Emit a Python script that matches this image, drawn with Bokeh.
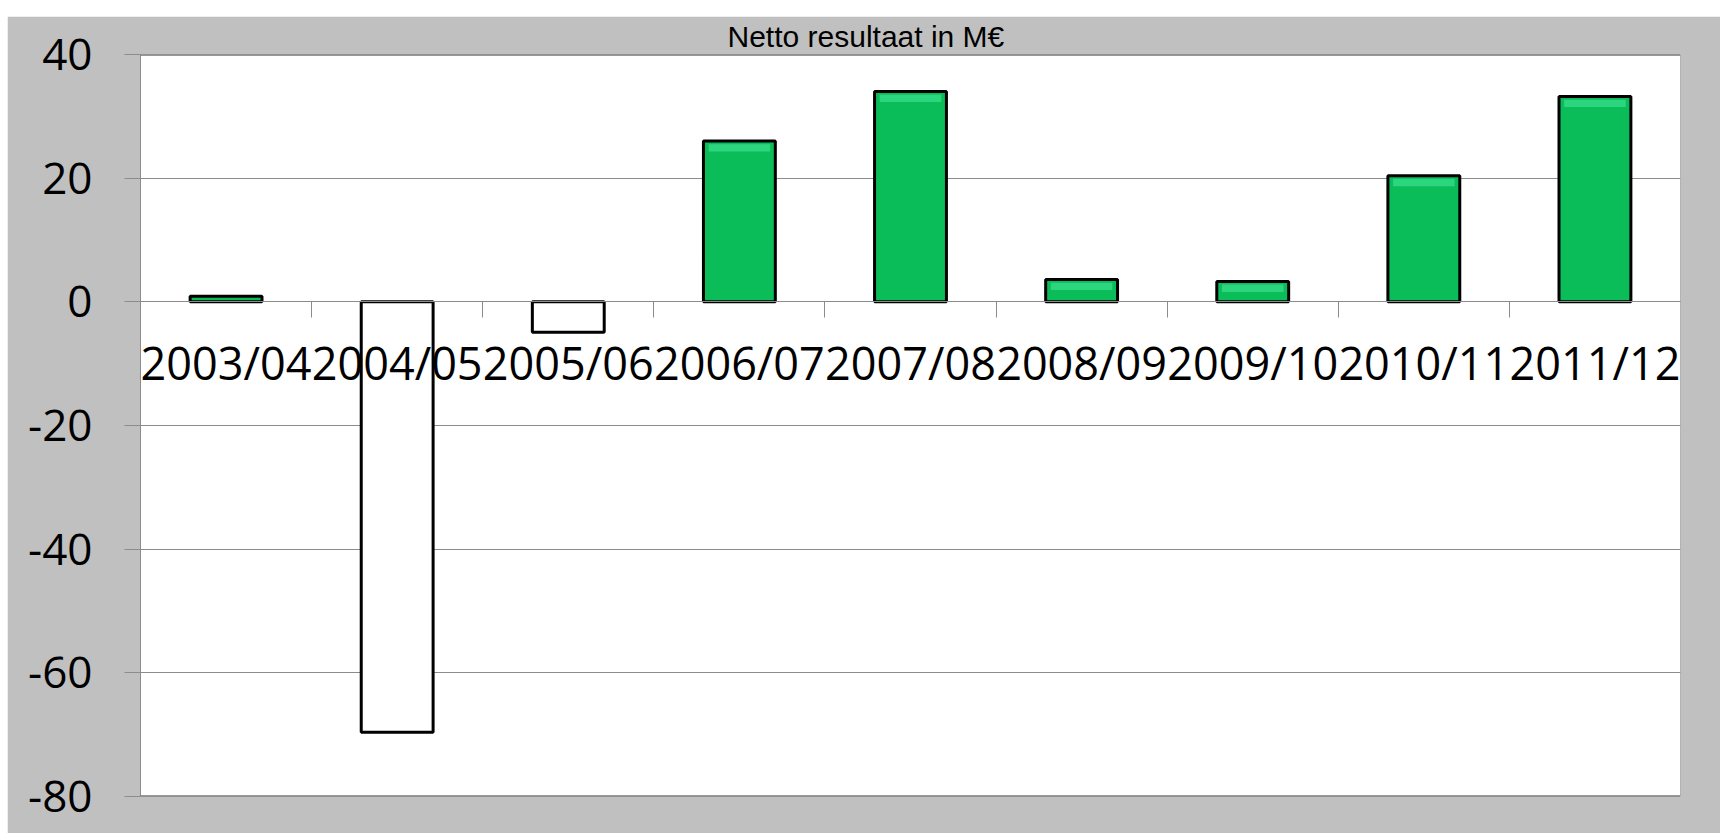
from bokeh.plotting import figure
from bokeh.models import Range1d, FixedTicker, Span, Spacer
from bokeh.layouts import column, row
from bokeh.embed import file_html
from bokeh.resources import INLINE

categories = ["2003/04", "2004/05", "2005/06", "2006/07", "2007/08",
              "2008/09", "2009/10", "2010/11", "2011/12"]
values = [0.9, -69.6, -4.9, 26.0, 34.0, 3.6, 3.3, 20.4, 33.2]
y_ticks = [-80, -60, -40, -20, 0, 20, 40]
title_text = "Netto resultaat in M€"

n = len(categories)
centers = [i + 0.5 for i in range(n)]
bounds = list(range(1, n))
colors = ["#0abd58" if v >= 0 else "white" for v in values]

GRAY = "#8c8c8c"

p = figure(width=1713, height=817,
           x_range=Range1d(0, n), y_range=Range1d(min(y_ticks), max(y_ticks)),
           output_backend="svg", toolbar_location=None,
           min_border_left=133, min_border_right=40,
           min_border_top=38, min_border_bottom=37)
p.border_fill_color = "#c0c0c0"
p.background_fill_color = "white"
p.outline_line_color = None

p.title.text = title_text
p.title.align = "left"
p.title.offset = 587
p.title.standoff = 0
p.title.vertical_align = "top"
p.title.text_font = "Liberation Sans"
p.title.text_font_style = "normal"
p.title.text_font_size = "30px"
p.title.text_color = "black"

# grid
p.xgrid.visible = False
p.ygrid.ticker = FixedTicker(ticks=y_ticks)
p.ygrid.grid_line_color = GRAY
p.ygrid.grid_line_width = 1

# frame borders
p.add_layout(Span(location=max(y_ticks), dimension="width", line_color="#333333", line_width=2))
p.add_layout(Span(location=min(y_ticks), dimension="width", line_color="#333333", line_width=2))
p.add_layout(Span(location=n, dimension="height", line_color="#777777", line_width=1))

# bars
p.vbar(x=centers, top=values, bottom=0, width=0.42,
       fill_color=colors, line_color="black", line_width=3)

# light bevel highlight near the top of the larger positive bars
hl = [(c, v) for c, v in zip(centers, values) if v > 2]
p.vbar(x=[c for c, _ in hl], top=[v - 0.5 for _, v in hl],
       bottom=[v - 1.7 for _, v in hl], width=0.36,
       fill_color="#34dc88", line_color=None, fill_alpha=0.8)

# x axis at zero
xa = p.xaxis[0]
xa.fixed_location = 0
xa.ticker = FixedTicker(ticks=centers, minor_ticks=bounds)
xa.major_label_overrides = {c: cat for c, cat in zip(centers, categories)}
xa.major_tick_line_color = None
xa.major_tick_out = 16
xa.major_tick_in = 0
xa.minor_tick_out = 16
xa.minor_tick_in = 0
xa.minor_tick_line_color = GRAY
xa.axis_line_color = GRAY
xa.major_label_text_font = "Open Sans"
xa.major_label_text_font_size = "45px"
xa.major_label_text_color = "black"
xa.major_label_standoff = 14

ya = p.yaxis[0]
ya.ticker = FixedTicker(ticks=y_ticks)
ya.major_label_overrides = {t: str(t) for t in y_ticks}
ya.major_tick_out = 16
ya.major_tick_in = 0
ya.major_tick_line_color = GRAY
ya.minor_tick_line_color = None
ya.axis_line_color = GRAY
ya.major_label_text_font = "Open Sans"
ya.major_label_text_font_size = "44px"
ya.major_label_text_color = "black"
ya.major_label_standoff = 32

layout = column(Spacer(height=16), row(Spacer(width=7), p))
open("out.html", "w").write(file_html(layout, INLINE))
